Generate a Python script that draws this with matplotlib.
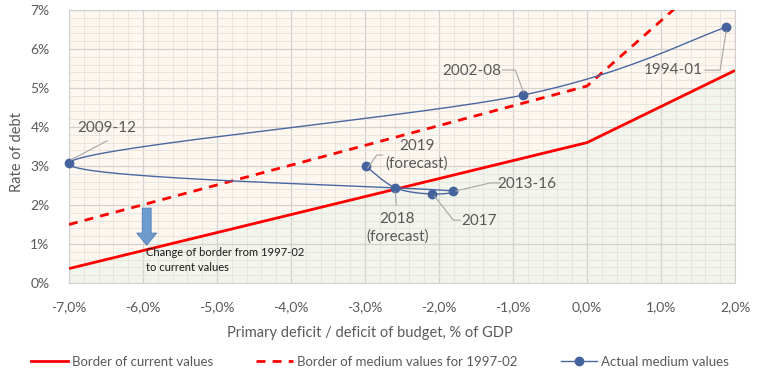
import numpy as np
import matplotlib
matplotlib.use('Agg')
import matplotlib.pyplot as plt
from matplotlib.ticker import MultipleLocator, FixedLocator, FuncFormatter
from matplotlib.patches import FancyArrow
from matplotlib.lines import Line2D
from matplotlib.transforms import IdentityTransform

# ---------------- data ----------------
border_x = [-7.0, 0.0, 2.0]
border_current = [0.37, 3.60, 5.45]
border_medium = [1.50, 5.05, 8.40]

periods = ['1994-01', '2002-08', '2009-12', '2013-16', '2017',
           '2018\n(forecast)', '2019\n(forecast)']
deficit = [1.88, -0.86, -7.00, -1.81, -2.09, -2.59, -2.99]
debt_rate = [6.56, 4.82, 3.08, 2.36, 2.28, 2.44, 3.00]

x_ticks = [-7, -6, -5, -4, -3, -2, -1, 0, 1, 2]
y_ticks = [0, 1, 2, 3, 4, 5, 6, 7]

# ---------------- style ----------------
FONT = ['Lato', 'DejaVu Sans']
plt.rcParams['font.family'] = FONT
TXT = '#595959'
BLUE = '#4A67A1'
RED = '#FF0000'

W, H = 764, 377
fig = plt.figure(figsize=(W / 100, H / 100), dpi=100)
L, R, T, B = 69, 735, 10, 283
ax = fig.add_axes([L / W, 1 - B / H, (R - L) / W, (B - T) / H])
ax.set_xlim(-7, 2)
ax.set_ylim(0, 7)
ax.set_facecolor('#FDF7F0')

ax.xaxis.set_major_locator(FixedLocator(x_ticks))
ax.yaxis.set_major_locator(FixedLocator(y_ticks))
ax.xaxis.set_minor_locator(MultipleLocator(0.2))
ax.yaxis.set_minor_locator(MultipleLocator(0.2))
ax.xaxis.set_major_formatter(FuncFormatter(lambda v, p: f"{v:.1f}%".replace('.', ',')))
ax.yaxis.set_major_formatter(FuncFormatter(lambda v, p: f"{v:.0f}%"))
ax.grid(which='major', color='#D4D2CF', lw=0.9, zorder=1)
ax.grid(which='minor', color='#E9E4DD', lw=0.7, zorder=1)
ax.set_axisbelow(True)
ax.tick_params(which='both', length=0, colors=TXT, labelsize=10)
ax.tick_params(axis='x', pad=13)
ax.tick_params(axis='y', pad=14)
for s in ax.spines.values():
    s.set_color('#D0D0D0')
    s.set_linewidth(0.8)

# fill region below current border
ax.fill_between(border_x, 0, border_current, color='#F1F5EC', zorder=0.5, lw=0)

ax.plot(border_x, border_current, color=RED, lw=2.0, zorder=3, solid_capstyle='butt')
ax.plot(border_x, border_medium, color=RED, lw=2.0, ls=(0, (3.2, 2.6)), zorder=3)

# Excel-like smoothed line (Bezier, handles capped at half segment length)
sx = (R - L) / 9.0
sy = (B - T) / 7.0


def smooth(xs, ys, n=60):
    P = np.column_stack([np.asarray(xs) * sx, np.asarray(ys) * sy])
    out = []
    m = len(P)
    for i in range(m - 1):
        p0 = P[i - 1] if i > 0 else P[i]
        p1 = P[i]
        p2 = P[i + 1]
        p3 = P[i + 2] if i + 2 < m else P[i + 1]
        d12 = np.linalg.norm(p2 - p1)
        d02 = np.linalg.norm(p2 - p0)
        d13 = np.linalg.norm(p3 - p1)
        f1 = 1 / 6.0 if d02 / 6.0 < d12 / 2.0 else (d12 / 2.0 / d02 if d02 > 0 else 0)
        f2 = 1 / 6.0 if d13 / 6.0 < d12 / 2.0 else (d12 / 2.0 / d13 if d13 > 0 else 0)
        c1 = p1 + (p2 - p0) * f1
        c2 = p2 - (p3 - p1) * f2
        t = np.linspace(0, 1, n)[:, None]
        seg = ((1 - t) ** 3) * p1 + 3 * ((1 - t) ** 2) * t * c1 + 3 * (1 - t) * t ** 2 * c2 + t ** 3 * p2
        out.append(seg if i == 0 else seg[1:])
    Q = np.vstack(out)
    return Q[:, 0] / sx, Q[:, 1] / sy


cx, cy = smooth(deficit, debt_rate)
ax.plot(cx, cy, color=BLUE, lw=1.0, zorder=4, clip_on=False)
ax.plot(deficit, debt_rate, ls='none', marker='o', ms=6, color='#44629C',
        zorder=5, clip_on=False)

# arrow
ax.add_patch(FancyArrow(-5.95, 1.92, 0, -0.95, width=0.12, head_width=0.27,
                        head_length=0.31, length_includes_head=True,
                        facecolor='#6E9BCD', edgecolor='#4F7DB0', lw=0.6, zorder=4))
ax.text(-5.96, 0.60, 'Change of border from 1997-02\nto current values', fontsize=8,
        color='#1A1A1A', ha='left', va='center', linespacing=1.45, zorder=6)

# data labels with leader lines (pixel offsets from each point)
label_layout = {
    '1994-01': ((-53, -43), [(0, -4), (-6, -43), (-21, -43)]),
    '2002-08': ((-52, 24), [(0, 3), (-8, 25), (-21, 25)]),
    '2009-12': ((38, 35), [(2, 3), (38, 22)]),
    '2013-16': ((74, 7), [(3, 0), (37, 8), (47, 8)]),
    '2017': ((47, -27), [(2, -2), (21, -26), (28, -26)]),
    '2018\n(forecast)': ((2, -40), [(0, -4), (1, -17)]),
    '2019\n(forecast)': ((51, 11), [(2, -2), (11, 11), (17, 11)]),
}
for lab, x, y in zip(periods, deficit, debt_rate):
    off, path = label_layout[lab]
    ax.annotate(lab, xy=(x, y), xytext=off, textcoords='offset pixels',
                ha='center', va='center', fontsize=11, color=TXT,
                linespacing=1.35, zorder=6, annotation_clip=False)
    px, py = ax.transData.transform((x, y))
    xs_ = [px + a for a, b in path]
    ys_ = [py + b for a, b in path]
    fig.add_artist(Line2D(xs_, ys_, transform=IdentityTransform(),
                          color='#A6A6A6', lw=0.8, zorder=6))

# axis titles
fig.text(17 / W, 1 - 152 / H, 'Rate of debt', rotation=90, ha='center', va='center',
         fontsize=10.5, color=TXT)
fig.text(370 / W, 1 - 333 / H, 'Primary deficit / deficit of budget, % of GDP',
         ha='center', va='center', fontsize=10.5, color=TXT)

handles = [
    Line2D([], [], color=RED, lw=2.0),
    Line2D([], [], color=RED, lw=2.0, ls=(0, (3.2, 2.6))),
    Line2D([], [], color=BLUE, lw=1.0, marker='o', ms=6, markerfacecolor='#44629C',
           markeredgecolor='#44629C'),
]
labels = ['Border of current values', 'Border of medium values for 1997-02',
          'Actual medium values']
fig.legend(handles, labels, loc='center', bbox_to_anchor=(380 / W, 1 - 362 / H),
           ncol=3, frameon=False, fontsize=9.5, handlelength=2.8, handletextpad=0.25,
           columnspacing=3.3, labelcolor=TXT)

fig.savefig('out.png', dpi=100)
